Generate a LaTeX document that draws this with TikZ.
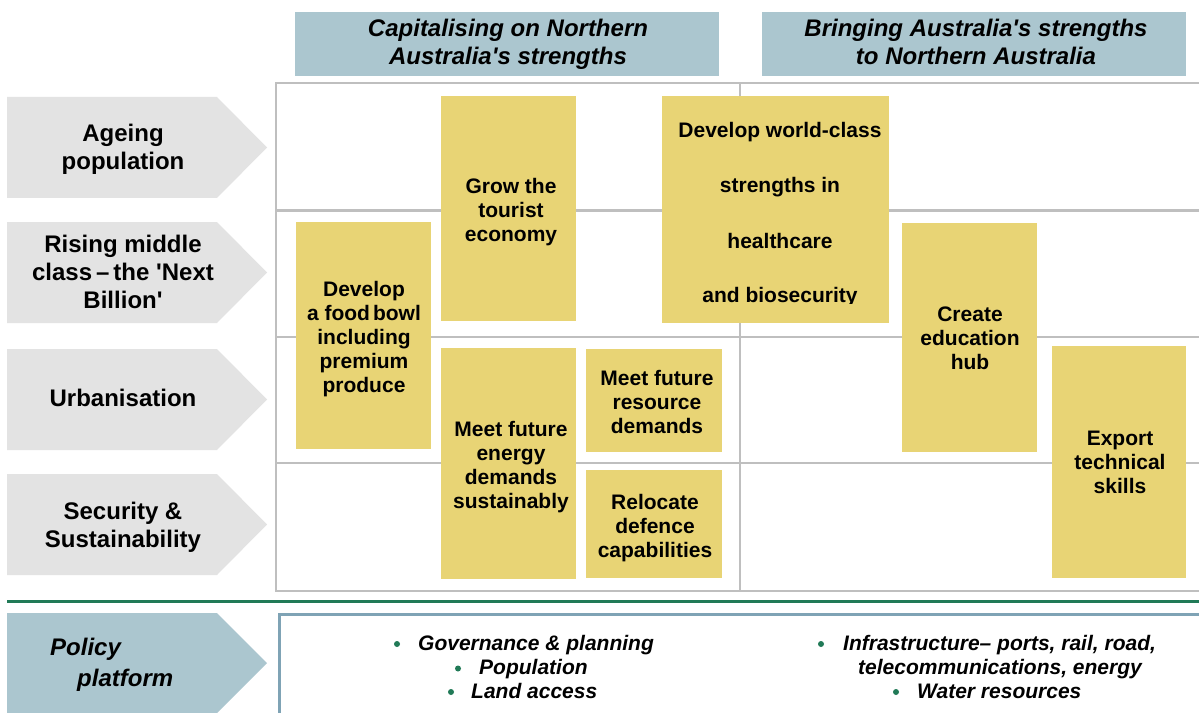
\documentclass[tikz,border=0pt]{standalone}
\usepackage{fontspec}
\setmainfont{Liberation Sans}
\definecolor{hdrblue}{RGB}{171,198,207}
\definecolor{arrgray}{RGB}{227,227,227}
\definecolor{yel}{RGB}{232,212,117}
\definecolor{gridgray}{RGB}{191,191,191}
\definecolor{lgreen}{RGB}{33,122,87}
\definecolor{polblue}{RGB}{127,163,181}
\newcommand{\sq}{\textquotesingle}
\begin{document}
\begin{tikzpicture}[x=1bp,y=-1bp,
  lbl/.style={font=\bfseries\fontsize{24bp}{28.2bp}\selectfont,align=center,inner sep=0,anchor=north},
  hdr/.style={font=\bfseries\itshape\fontsize{24bp}{28bp}\selectfont,align=center,inner sep=0,anchor=north},
  ytxt/.style={font=\bfseries\fontsize{21bp}{24bp}\selectfont,align=center,inner sep=0,anchor=north},
  wctxt/.style={font=\bfseries\fontsize{21bp}{24bp}\selectfont,inner sep=0,anchor=base},
  pol/.style={font=\bfseries\itshape\fontsize{24bp}{28bp}\selectfont,inner sep=0,anchor=base west},
  btxt/.style={font=\bfseries\itshape\fontsize{21bp}{24bp}\selectfont,inner sep=0,anchor=base west},
  bdot/.style={circle,fill=lgreen,inner sep=0,minimum size=6bp},
  gridline/.style={draw=gridgray,line width=2bp},
  ]
\useasboundingbox (0,0) rectangle (1199,713);
\fill[white] (0,0) rectangle (1199,713);
% header boxes
\fill[hdrblue] (295,12) rectangle (719,76);
\fill[hdrblue] (762,12) rectangle (1186,76);
\node[hdr] (h1) at (508,18.5) {Capitalising on Northern\\Australia\sq s strengths};
\node[hdr] (h2) at (976,18.5) {Bringing Australia\sq s strengths\\to Northern Australia};
% left arrows
\foreach \t in {97,222,349,474}{
  \fill[arrgray] (7,\t) -- (217,\t) -- (267,\t+50.5) -- (217,\t+101) -- (7,\t+101) -- cycle;
}
\fill[hdrblue] (7,613) -- (217,613) -- (267,663) -- (217,713) -- (7,713) -- cycle;
\node[lbl] (l1) at (123,123.5) {Ageing\\population};
\node[lbl] (l2) at (123,234.5) {Rising middle\\class\kern4bp--\kern4bp the \sq Next\\Billion\sq};
\node[lbl] (l3) at (123,389.4) {Urbanisation};
\node[lbl] (l4) at (123,501.8) {Security \&\\Sustainability};
% grid
\draw[gridline] (1199,83) -- (276,83) -- (276,591) -- (1199,591);
\draw[gridline] (276,210.5) -- (1199,210.5);
\draw[gridline] (276,337) -- (1199,337);
\draw[gridline] (276,463) -- (1199,463);
\draw[gridline] (740,83) -- (740,591);
% yellow boxes
\fill[yel] (441,96) rectangle (576,321);
\fill[yel] (662,96) rectangle (889,323);
\fill[yel] (296,222) rectangle (431,449);
\fill[yel] (441,348) rectangle (576,579);
\fill[yel] (586,349) rectangle (722,452);
\fill[yel] (586,470) rectangle (722,578);
\fill[yel] (902,223) rectangle (1037,452);
\fill[yel] (1052,346) rectangle (1186,578);
\node[ytxt] (tour) at (511,178.5) {Grow the\\tourist\\economy};
\node[ytxt] (food) at (364,281.5) {Develop\\a food\kern3bp bowl\\including\\premium\\produce};
\node[ytxt] (energy) at (511,421) {Meet future\\energy\\demands\\sustainably};
\node[ytxt] (res) at (657,370) {Meet future\\resource\\demands};
\node[ytxt] (def) at (655,494) {Relocate\\defence\\capabilities};
\node[ytxt] (edu) at (970,307) {Create\\education\\hub};
\node[ytxt] (exp) at (1120,430.7) {Export\\technical\\skills};
\begin{scope}
  \clip (662,96) rectangle (889,303);
  \node[wctxt] (wc1) at (780,138) {Develop world-class};
  \node[wctxt] (wc2) at (780,193) {strengths in};
  \node[wctxt] (wc3) at (780,248) {healthcare};
  \node[wctxt] (wc4) at (780,302) {and biosecurity};
\end{scope}
% separator
\draw[draw=lgreen,line width=3bp] (7,601.5) -- (1199,601.5);
% policy platform box
\draw[draw=polblue,line width=3bp] (1199,614) -- (279,614) -- (279,714);
\node[pol] (p1) at (50,655) {Policy};
\node[pol] (p2) at (77,686.7) {platform};
\node[bdot] (d1) at (397,644) {};
\node[btxt] (t1) at (418,650.5) {Governance \& planning};
\node[bdot] (d2) at (458,668.5) {};
\node[btxt] (t2) at (479,674.5) {Population};
\node[bdot] (d3) at (451,692) {};
\node[btxt] (t3) at (471,698) {Land access};
\node[bdot] (d4) at (821,644) {};
\node[btxt] (t4) at (843,650.5) {Infrastructure-- ports, rail, road,};
\node[btxt] (t5) at (858,674.5) {telecommunications, energy};
\node[bdot] (d5) at (896,692) {};
\node[btxt] (t6) at (917,698) {Water resources};
\end{tikzpicture}
\end{document}
